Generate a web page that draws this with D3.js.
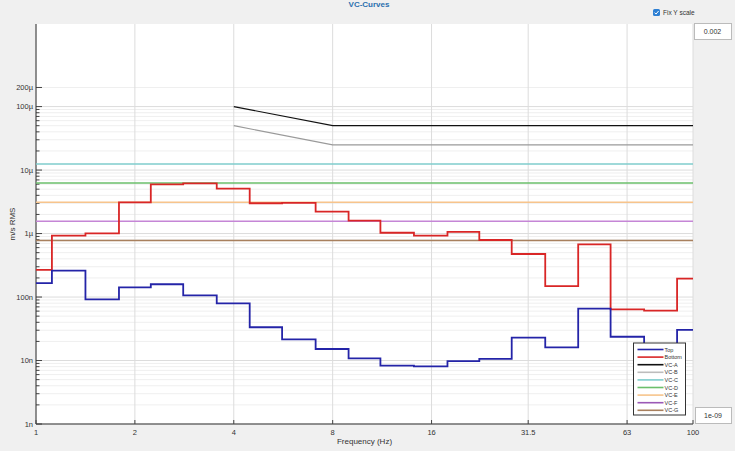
<!DOCTYPE html>
<html>
<head>
<meta charset="UTF-8">
<title>VC-Curves</title>
<script src="https://d3js.org/d3.v7.min.js"></script>
<style>
  * { margin: 0; padding: 0; box-sizing: border-box; }
  body { background: #f0f0f0; font-family: "Liberation Sans Narrow", "Liberation Sans", sans-serif; }
  svg text { fill: #333; }
</style>
</head>
<body>
<div id="chart"></div>
<script>
// 1/3 octave band centres (Hz)
const freqs = [1, 1.25, 1.6, 2, 2.5, 3.15, 4, 5, 6.3, 8, 10, 12.5, 16, 20, 25, 31.5, 40, 50, 63, 80, 100];
const topVals = [1.66e-7, 2.6e-7, 9.2e-8, 1.42e-7, 1.59e-7, 1.06e-7, 7.96e-8, 3.34e-8, 2.16e-8, 1.52e-8,
                 1.08e-8, 8.3e-9, 8.1e-9, 9.8e-9, 1.06e-8, 2.29e-8, 1.61e-8, 6.56e-8, 2.37e-8, 1.36e-8, 3.03e-8];
const bottomVals = [2.67e-7, 9.25e-7, 1.01e-6, 3.1e-6, 5.97e-6, 6.19e-6, 5.09e-6, 3.0e-6, 3.05e-6, 2.21e-6,
                    1.6e-6, 1.03e-6, 9.25e-7, 1.06e-6, 7.92e-7, 4.76e-7, 1.49e-7, 6.77e-7, 6.41e-8, 6.1e-8, 1.95e-7];

// VC criteria
const vcAB_f = [4, 8, 100];
const vcA = [1e-4, 5e-5, 5e-5];
const vcB = [5e-5, 2.5e-5, 2.5e-5];
const vcFlat_f = [1, 100];
const vcC = 12.5e-6, vcD = 6.25e-6, vcE = 3.12e-6, vcF = 1.56e-6, vcG = 0.78e-6;

const xTicks = [1, 2, 4, 8, 16, 31.5, 63, 100];
const yTicks = [1e-9, 1e-8, 1e-7, 1e-6, 1e-5, 1e-4, 2e-4];
const yTickLabels = ["1n", "10n", "100n", "1\u00b5", "10\u00b5", "100\u00b5", "200\u00b5"];
const yMin = 1e-9, yMax = 0.002;

const W = 735, H = 451;
const L = 36, R = 693, T = 24, B = 424;

const svg = d3.select("#chart").append("svg")
  .attr("width", W).attr("height", H)
  .style("display", "block");

svg.append("rect").attr("width", W).attr("height", H).attr("fill", "#f0f0f0");

const x = d3.scaleLog().domain([1, 100]).range([L, R]);
const y = d3.scaleLog().domain([yMin, yMax]).range([B, T]);

// plot area
svg.append("rect").attr("x", L).attr("y", T).attr("width", R - L).attr("height", B - T).attr("fill", "#fff");

// minor horizontal grid (only up to 200µ, like the reference)
const minor = [];
for (let e = -9; e <= -4; e++) for (let m = 1; m <= 9; m++) {
  const v = m * Math.pow(10, e);
  if (v >= yMin && v <= 2e-4 + 1e-12) minor.push(v);
}
const isDecade = d => Math.abs(Math.log10(d) - Math.round(Math.log10(d))) < 1e-6;
svg.append("g").selectAll("line").data(minor).join("line")
  .attr("x1", L).attr("x2", R)
  .attr("y1", d => y(d)).attr("y2", d => y(d))
  .attr("stroke", d => isDecade(d) ? "#dcdcdc" : "#efefef")
  .attr("stroke-width", 1);

// vertical grid
svg.append("g").selectAll("line").data(xTicks).join("line")
  .attr("x1", d => x(d)).attr("x2", d => x(d))
  .attr("y1", T).attr("y2", B)
  .attr("stroke", "#dcdcdc");

// y ticks (inside)
svg.append("g").selectAll("line").data(minor).join("line")
  .attr("x1", L).attr("x2", d => (isDecade(d) || d === 2e-4) ? L + 6 : L + 3.5)
  .attr("y1", d => y(d)).attr("y2", d => y(d))
  .attr("stroke", "#444");

// axes lines
svg.append("line").attr("x1", L).attr("x2", L).attr("y1", T).attr("y2", B).attr("stroke", "#333");
svg.append("line").attr("x1", L).attr("x2", R).attr("y1", B).attr("y2", B).attr("stroke", "#333");

// x ticks
svg.append("g").selectAll("line").data(xTicks).join("line")
  .attr("x1", d => x(d)).attr("x2", d => x(d))
  .attr("y1", B).attr("y2", B - 4).attr("stroke", "#444");

svg.append("g").selectAll("text").data(xTicks).join("text")
  .attr("x", d => x(d)).attr("y", B + 11)
  .attr("text-anchor", "middle").style("font-size", "7.5px")
  .text(d => d);

svg.append("g").selectAll("text").data(yTicks).join("text")
  .attr("x", L - 3).attr("y", d => y(d) + 2.5)
  .attr("text-anchor", "end").style("font-size", "7.5px")
  .text((d, i) => yTickLabels[i]);

svg.append("text").attr("x", (L + R) / 2).attr("y", 444)
  .attr("text-anchor", "middle").style("font-size", "8px").text("Frequency (Hz)");

svg.append("text").attr("transform", `translate(15,${(T + B) / 2}) rotate(-90)`)
  .attr("text-anchor", "middle").style("font-size", "8px").text("m/s RMS");

// title
svg.append("text").attr("x", 369).attr("y", 7)
  .attr("text-anchor", "middle").style("font-size", "8px").style("font-weight", "bold")
  .style("fill", "#2a6fae").text("VC-Curves");

// lines
const line = d3.line().x(d => x(d[0])).y(d => y(d[1]));
const stepLine = d3.line().x(d => x(d[0])).y(d => y(d[1])).curve(d3.curveStep);

const series = [
  { name: "VC-G", color: "#a8805e", w: 1.5, pts: vcFlat_f.map(f => [f, vcG]) },
  { name: "VC-F", color: "#c586d6", w: 1.5, pts: vcFlat_f.map(f => [f, vcF]) },
  { name: "VC-E", color: "#f7c48c", w: 1.5, pts: vcFlat_f.map(f => [f, vcE]) },
  { name: "VC-D", color: "#6bbf6b", w: 1.5, pts: vcFlat_f.map(f => [f, vcD]) },
  { name: "VC-C", color: "#7fcdcd", w: 1.5, pts: vcFlat_f.map(f => [f, vcC]) },
  { name: "VC-B", color: "#9a9a9a", w: 1.2, pts: vcAB_f.map((f, i) => [f, vcB[i]]) },
  { name: "VC-A", color: "#111111", w: 1.2, pts: vcAB_f.map((f, i) => [f, vcA[i]]) }
];
series.forEach(s => {
  svg.append("path").attr("d", line(s.pts)).attr("fill", "none")
    .attr("stroke", s.color).attr("stroke-width", s.w);
});

svg.append("path").attr("d", stepLine(freqs.map((f, i) => [f, bottomVals[i]])))
  .attr("fill", "none").attr("stroke", "#d92626").attr("stroke-width", 1.8);
svg.append("path").attr("d", stepLine(freqs.map((f, i) => [f, topVals[i]])))
  .attr("fill", "none").attr("stroke", "#2424a8").attr("stroke-width", 1.8);

// legend
const legend = [
  { name: "Top", color: "#2424a8" },
  { name: "Bottom", color: "#d92626" },
  { name: "VC-A", color: "#111111" },
  { name: "VC-B", color: "#bdbdbd" },
  { name: "VC-C", color: "#7fcdcd" },
  { name: "VC-D", color: "#6bbf6b" },
  { name: "VC-E", color: "#f7c48c" },
  { name: "VC-F", color: "#9b59b6" },
  { name: "VC-G", color: "#a8805e" }
];
const lg = svg.append("g").attr("transform", "translate(633.5,343)");
lg.append("rect").attr("width", 52).attr("height", 72).attr("fill", "#fff").attr("stroke", "#333");
legend.forEach((d, i) => {
  const yy = 6.5 + i * 7.6;
  lg.append("line").attr("x1", 4).attr("x2", 30).attr("y1", yy).attr("y2", yy)
    .attr("stroke", d.color).attr("stroke-width", 1.6);
  lg.append("text").attr("x", 31).attr("y", yy + 2).style("font-size", "5.5px").text(d.name);
});

// controls
const cb = svg.append("g").attr("transform", "translate(653,9)");
cb.append("rect").attr("width", 7).attr("height", 7).attr("rx", 1.5).attr("fill", "#2d7fd3");
cb.append("path").attr("d", "M1.5,3.6 L3,5.1 L5.6,2").attr("fill", "none").attr("stroke", "#fff").attr("stroke-width", 1);
svg.append("text").attr("x", 663).attr("y", 15).style("font-size", "6.5px").text("Fix Y scale");

function inputBox(x0, y0, w, h, txt) {
  svg.append("rect").attr("x", x0 + 0.5).attr("y", y0 + 0.5).attr("width", w).attr("height", h)
    .attr("fill", "#fff").attr("stroke", "#bbb");
  svg.append("text").attr("x", x0 + w / 2).attr("y", y0 + h / 2 + 2.5)
    .attr("text-anchor", "middle").style("font-size", "7px").text(txt);
}
inputBox(694, 23, 37, 16, "0.002");
inputBox(695, 407, 36, 16, "1e-09");
</script>
</body>
</html>
